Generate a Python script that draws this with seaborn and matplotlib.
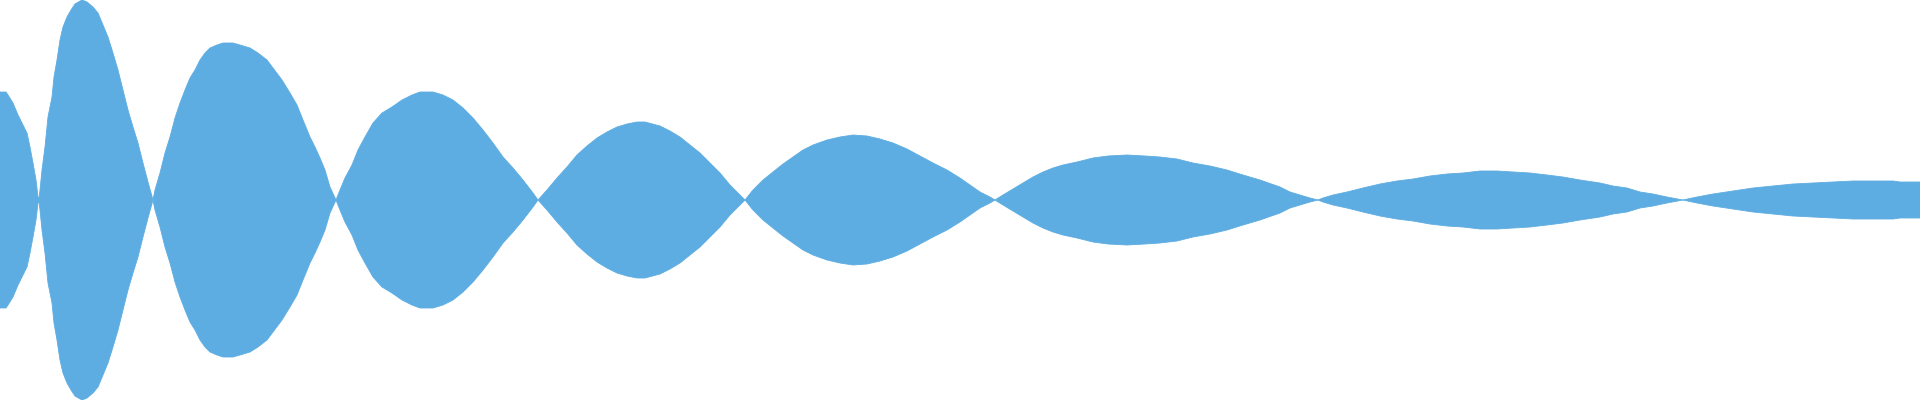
import numpy as np
import pandas as pd
import seaborn as sns
from matplotlib import pyplot as plt

# sample positions and signed wave amplitude (one row per lobe)
t = [0, 6, 8, 13, 18, 23, 27, 30, 33, 36, 38, 38.7,
     40, 42, 45, 48, 52, 54, 57, 60, 63, 67, 71, 75, 82, 87, 93, 98, 103, 108, 113, 118, 123, 128, 133, 138, 143, 148, 153,
     155, 160, 165, 170, 175, 180, 185, 190, 195, 200, 205, 210, 217, 223, 233, 240, 250, 258, 267, 273, 282, 290, 297, 303, 310, 315, 320, 325, 330, 336,
     340, 345, 352, 358, 365, 373, 382, 392, 402, 412, 420, 433, 443, 453, 463, 473, 483, 493, 503, 513, 523, 533, 538,
     547, 557, 567, 577, 587, 597, 607, 617, 627, 637, 645, 660, 670, 680, 690, 700, 710, 720, 730, 740, 745,
     753, 763, 773, 783, 793, 803, 813, 827, 840, 853, 867, 880, 893, 907, 920, 933, 947, 960, 970, 980, 990, 995,
     1003, 1013, 1023, 1033, 1043, 1053, 1063, 1077, 1093, 1108, 1127, 1145, 1160, 1177, 1193, 1210, 1227, 1243, 1260, 1280, 1290, 1300, 1310, 1318,
     1323, 1333, 1347, 1363, 1380, 1397, 1413, 1430, 1447, 1463, 1480, 1497, 1513, 1530, 1547, 1563, 1580, 1600, 1613, 1627, 1640, 1653, 1667, 1683,
     1697, 1713, 1733, 1753, 1773, 1793, 1813, 1833, 1853, 1873, 1893, 1900, 1920]
amp = [108, 108, 105, 97, 85, 75, 67, 53, 37, 20, 3, 0,
       -10, -30, -53, -83, -103, -123, -140, -160, -173, -183, -190, -196, -200, -198, -193, -187, -175, -163, -147, -130, -110, -90, -73, -57, -37, -18, 0,
       10, 27, 47, 63, 82, 97, 110, 122, 130, 140, 147, 152, 155, 157, 157, 155, 152, 147, 140, 132, 120, 107, 95, 80, 63, 53, 42, 30, 13, 0,
       -10, -22, -35, -50, -63, -77, -87, -93, -100, -105, -108, -108, -105, -100, -92, -82, -70, -57, -43, -32, -20, -7, 0,
       10, 22, 33, 45, 54, 62, 68, 73, 76, 78, 78, 74, 69, 63, 55, 47, 37, 27, 15, 5, 0,
       -10, -20, -28, -36, -43, -50, -55, -60, -63, -65, -64, -61, -57, -51, -44, -37, -30, -22, -15, -8, -3, 0,
       5, 11, 17, 23, 28, 32, 35, 38, 42, 44, 45, 44, 43, 41, 37, 34, 30, 25, 20, 13, 8, 5, 2, 0,
       -2, -5, -8, -12, -16, -19, -21, -24, -26, -27, -29, -29, -28, -27, -25, -23, -20, -17, -14, -12, -8, -6, -3, 0,
       3, 6, 9, 12, 14, 16, 17, 18, 19, 19, 19, 18, 18]

wave_color = "#5DADE2"

def draw_wave():
    df = pd.DataFrame({"t": t, "amp": amp})
    df["upper"] = df["amp"].abs()
    df["lower"] = -df["amp"].abs()

    sns.set_theme(style="white")
    fig = plt.figure(figsize=(19.2, 4), dpi=100)
    ax = fig.add_axes([0, 0, 1, 1])

    sns.lineplot(data=df, x="t", y="upper", color=wave_color, linewidth=0.6, ax=ax)
    sns.lineplot(data=df, x="t", y="lower", color=wave_color, linewidth=0.6, ax=ax)
    ax.fill_between(df["t"], df["lower"], df["upper"], color=wave_color, linewidth=0)

    ax.set_xlim(0, 1920)
    ax.set_ylim(-200, 200)
    ax.axis("off")
    fig.savefig("out.png", dpi=100, facecolor="white")

if __name__ == "__main__":
    draw_wave()
